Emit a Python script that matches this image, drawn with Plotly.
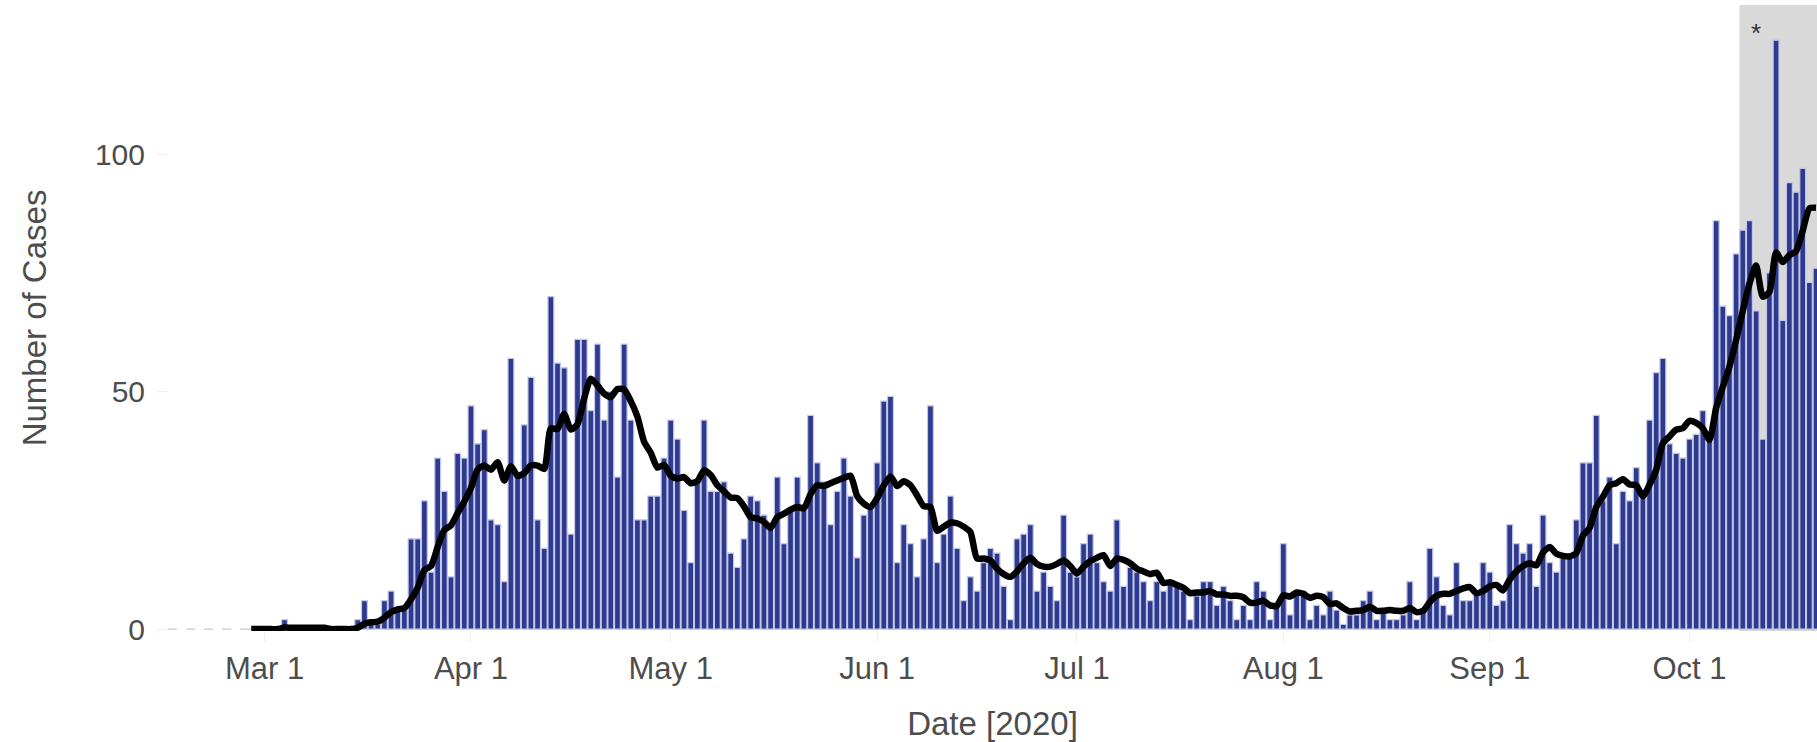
import pandas as pd
import plotly.graph_objects as go

# ---- data ----
start_date = "2020-02-28"
daily_cases = [
    0, 0,                                   # Feb 28-29
    0, 0, 0, 2, 0, 0, 0, 0, 0, 0,           # Mar 1-10
    0, 0, 0, 0, 2, 6, 2, 1, 6, 8,           # Mar 11-20
    4, 4, 19, 19, 27, 12, 36, 29, 11, 37, 36,  # Mar 21-31
    47, 39, 42, 23, 22, 10, 57, 33, 43, 53,  # Apr 1-10
    23, 17, 70, 56, 55, 20, 61, 61, 46, 60,  # Apr 11-20
    44, 50, 32, 60, 44, 23, 23, 28, 28, 36,  # Apr 21-30
    44, 40, 25, 14, 31, 44, 29, 29, 31, 16,  # May 1-10
    13, 19, 28, 27, 24, 22, 32, 18, 25, 32,  # May 11-20
    25, 45, 35, 31, 22, 29, 36, 28, 15, 24, 26,  # May 21-31
    35, 48, 49, 14, 22, 18, 11, 19, 47, 14,  # Jun 1-10
    20, 28, 17, 6, 11, 8, 14, 17, 16, 9,     # Jun 11-20
    2, 19, 20, 22, 8, 12, 9, 6, 24, 12,      # Jun 21-30
    11, 18, 20, 14, 10, 8, 23, 9, 13, 12,    # Jul 1-10
    10, 6, 10, 8, 10, 9, 8, 2, 7, 10,        # Jul 11-20
    10, 5, 9, 6, 2, 5, 2, 10, 8, 2, 5,       # Jul 21-31
    18, 3, 8, 8, 2, 5, 3, 8, 4, 1,           # Aug 1-10
    3, 3, 6, 8, 2, 4, 2, 2, 3, 10,           # Aug 11-20
    2, 4, 17, 11, 5, 3, 14, 6, 6, 8, 14,     # Aug 21-31
    12, 5, 6, 22, 18, 16, 18, 9, 24, 14,     # Sep 1-10
    12, 15, 15, 23, 35, 35, 45, 27, 32, 18,  # Sep 11-20
    29, 27, 34, 29, 44, 54, 57, 39, 37, 36,  # Sep 21-30
    40, 41, 46, 40, 86, 68, 66, 79, 84, 86,  # Oct 1-10
    67, 40, 75, 124, 65, 94, 92, 97, 73, 76,  # Oct 11-20
]
tick_dates = ["2020-03-01", "2020-04-01", "2020-05-01", "2020-06-01",
              "2020-07-01", "2020-08-01", "2020-09-01", "2020-10-01"]
tick_labels = ["Mar 1", "Apr 1", "May 1", "Jun 1", "Jul 1", "Aug 1", "Sep 1", "Oct 1"]
y_ticks = [0, 50, 100]
y_tick_labels = ["0", "50", "100"]
shade_start = "2020-10-08 12:00"
shade_label = "*"
shade_label_date = "2020-10-11"
shade_label_value = 125.5

dates = pd.date_range(start_date, periods=len(daily_cases), freq="D")
cases = pd.Series(daily_cases, index=dates)
avg7 = cases.rolling(7, min_periods=1).mean()

x_min = "2020-02-15 12:00"
x_max = "2020-10-20 03:30"

fig = go.Figure()
fig.add_trace(go.Bar(
    x=dates, y=cases.values,
    marker=dict(color="#2D3A8F", line=dict(color="#C3C8E6", width=1.2)),
    name="Daily cases", showlegend=False,
))
fig.add_trace(go.Scatter(
    x=dates, y=avg7.values, mode="lines",
    line=dict(color="black", width=6.5, shape="spline", smoothing=0.6),
    name="7-day average", showlegend=False,
))

fig.add_shape(type="rect", xref="x", yref="paper", x0=shade_start, x1=x_max,
              y0=0, y1=1, fillcolor="#D9D9D9", line=dict(width=0), layer="below")
fig.add_shape(type="line", xref="paper", yref="y", x0=0, x1=1, y0=0, y1=0,
              line=dict(color="#BDBDBD", width=1, dash="dash"), layer="below")
fig.add_annotation(x=shade_label_date, y=shade_label_value, text=shade_label,
                   showarrow=False, font=dict(size=26, color="#333333"))

font_family = "Liberation Sans, Arial, Helvetica, sans-serif"
fig.update_layout(
    width=1817, height=742,
    margin=dict(l=168, r=0, t=5, b=111),
    paper_bgcolor="white", plot_bgcolor="white",
    bargap=0.12,
    font=dict(family=font_family, size=30, color="#4D4D4D"),
    xaxis=dict(
        type="date", range=[x_min, x_max],
        tickvals=tick_dates, ticktext=tick_labels,
        ticks="outside", ticklen=10, tickcolor="#EEEEEE", tickwidth=1,
        showgrid=False, zeroline=False, showline=False,
        tickfont=dict(size=31, color="#4D4D4D"),
        title=dict(text="Date [2020]", font=dict(size=33, color="#4D4D4D"), standoff=32),
    ),
    yaxis=dict(
        range=[-0.4, 131.4],
        tickvals=y_ticks, ticktext=y_tick_labels,
        ticks="outside", ticklen=10, tickcolor="#EEEEEE", tickwidth=1,
        ticklabelstandoff=6,
        showgrid=False, zeroline=False, showline=False,
        tickfont=dict(size=30, color="#4D4D4D"),
        title=dict(text="Number of Cases", font=dict(size=33, color="#4D4D4D"), standoff=38),
    ),
)

fig.write_html("out.html", config={"displayModeBar": False},
               post_script="document.body.style.margin='0';")
